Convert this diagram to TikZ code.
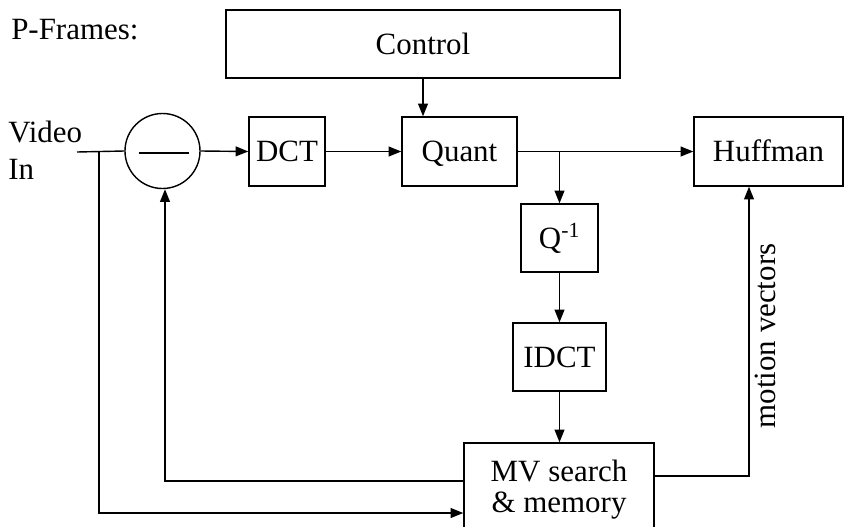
\documentclass[tikz,border=0pt]{standalone}
\usepackage{fontspec}
\setmainfont{Liberation Serif}
\usepackage{tikz}
\usetikzlibrary{positioning,shapes,calc,arrows.meta}

\tikzset{
  blk/.style={draw, rectangle, line width=1pt, inner sep=0pt,
    font=\fontsize{22}{26}\selectfont, text height=14.5pt, text depth=0pt},
  twoline/.style={draw, rectangle, line width=1pt, inner sep=0pt,
    font=\fontsize{22}{26}\selectfont, align=center},
  lbl/.style={inner sep=0pt, font=\fontsize{22}{26}\selectfont},
  wire/.style={line width=1pt},
  flow/.style={wire, -{Triangle[length=9pt,width=7pt]}}
}

\begin{document}
\begin{tikzpicture}[x=0.025cm, y=-0.025cm]
      % the picture is laid out in pixels of the original drawing
      \useasboundingbox (0,0) rectangle (845,526);
      \clip (0,0) rectangle (845,526);
      % titles and input
      \node[lbl, anchor=west] (title) at (11,30) {P-Frames:};
      \node[lbl, anchor=west, align=left] (vin) at (8,150) {Video\\In};
      % the blocks
      \node[blk, minimum width=9.85cm, minimum height=1.7cm] (control) at (423,44) {Control};
      \node[blk, circle, minimum size=1.875cm] (sub) at (162.5,151) {};
      \node[blk, minimum width=1.9cm, minimum height=1.725cm] (dct) at (287,151.5) {DCT};
      \node[blk, minimum width=2.875cm, minimum height=1.725cm] (quant) at (459.5,151.5) {Quant};
      \node[blk, minimum width=3.725cm, minimum height=1.725cm] (huff) at (768.5,151.5) {Huffman};
      \node[blk, minimum width=1.925cm, minimum height=1.7cm] (qinv) at (559.5,238) {Q\textsuperscript{-1}};
      \node[blk, minimum width=2.325cm, minimum height=1.7cm] (idct) at (559.5,357) {IDCT};
      \node[twoline, minimum width=4.75cm, minimum height=2.35cm] (mv) at (559,490)
        {MV search\\[-4pt] \& memory};
      % minus sign in the difference circle
      \draw[wire] ($(sub.center)+(-24,2)$) -- ($(sub.center)+(26,2)$);
      % connection points
      \coordinate (jn) at (99,152);
      \coordinate (br) at (559.5,152);
      \coordinate (fb) at (165,481);
      \coordinate (mvout) at (749,476);
      \coordinate (bot) at (99,513);
      % forward path
      \draw[wire] (77,152) -- (sub.west);
      \draw[flow] (sub.east) -- (dct.west);
      \draw[flow] (dct.east) -- (quant.west);
      \draw[flow] (control.south) -- (control.south |- quant.north);
      \draw[flow] (quant.east) -- (huff.west);
      \draw[flow] (br) -- (qinv.north);
      \draw[flow] (qinv.south) -- (idct.north);
      \draw[flow] (idct.south) -- (idct.south |- mv.north);
      % motion vectors to the coder
      \draw[flow] (mv.east |- mvout) -- (mvout) -- (mvout |- huff.south);
      \node[lbl, rotate=90] (mvlbl) at (765,336) {motion vectors};
      % prediction fed back to the difference
      \draw[flow] (mv.west |- fb) -- (fb) -- (fb |- sub.south);
      % input also goes to the search
      \draw[flow] (jn) -- (bot) -- (bot -| mv.west);
\end{tikzpicture}
\end{document}
